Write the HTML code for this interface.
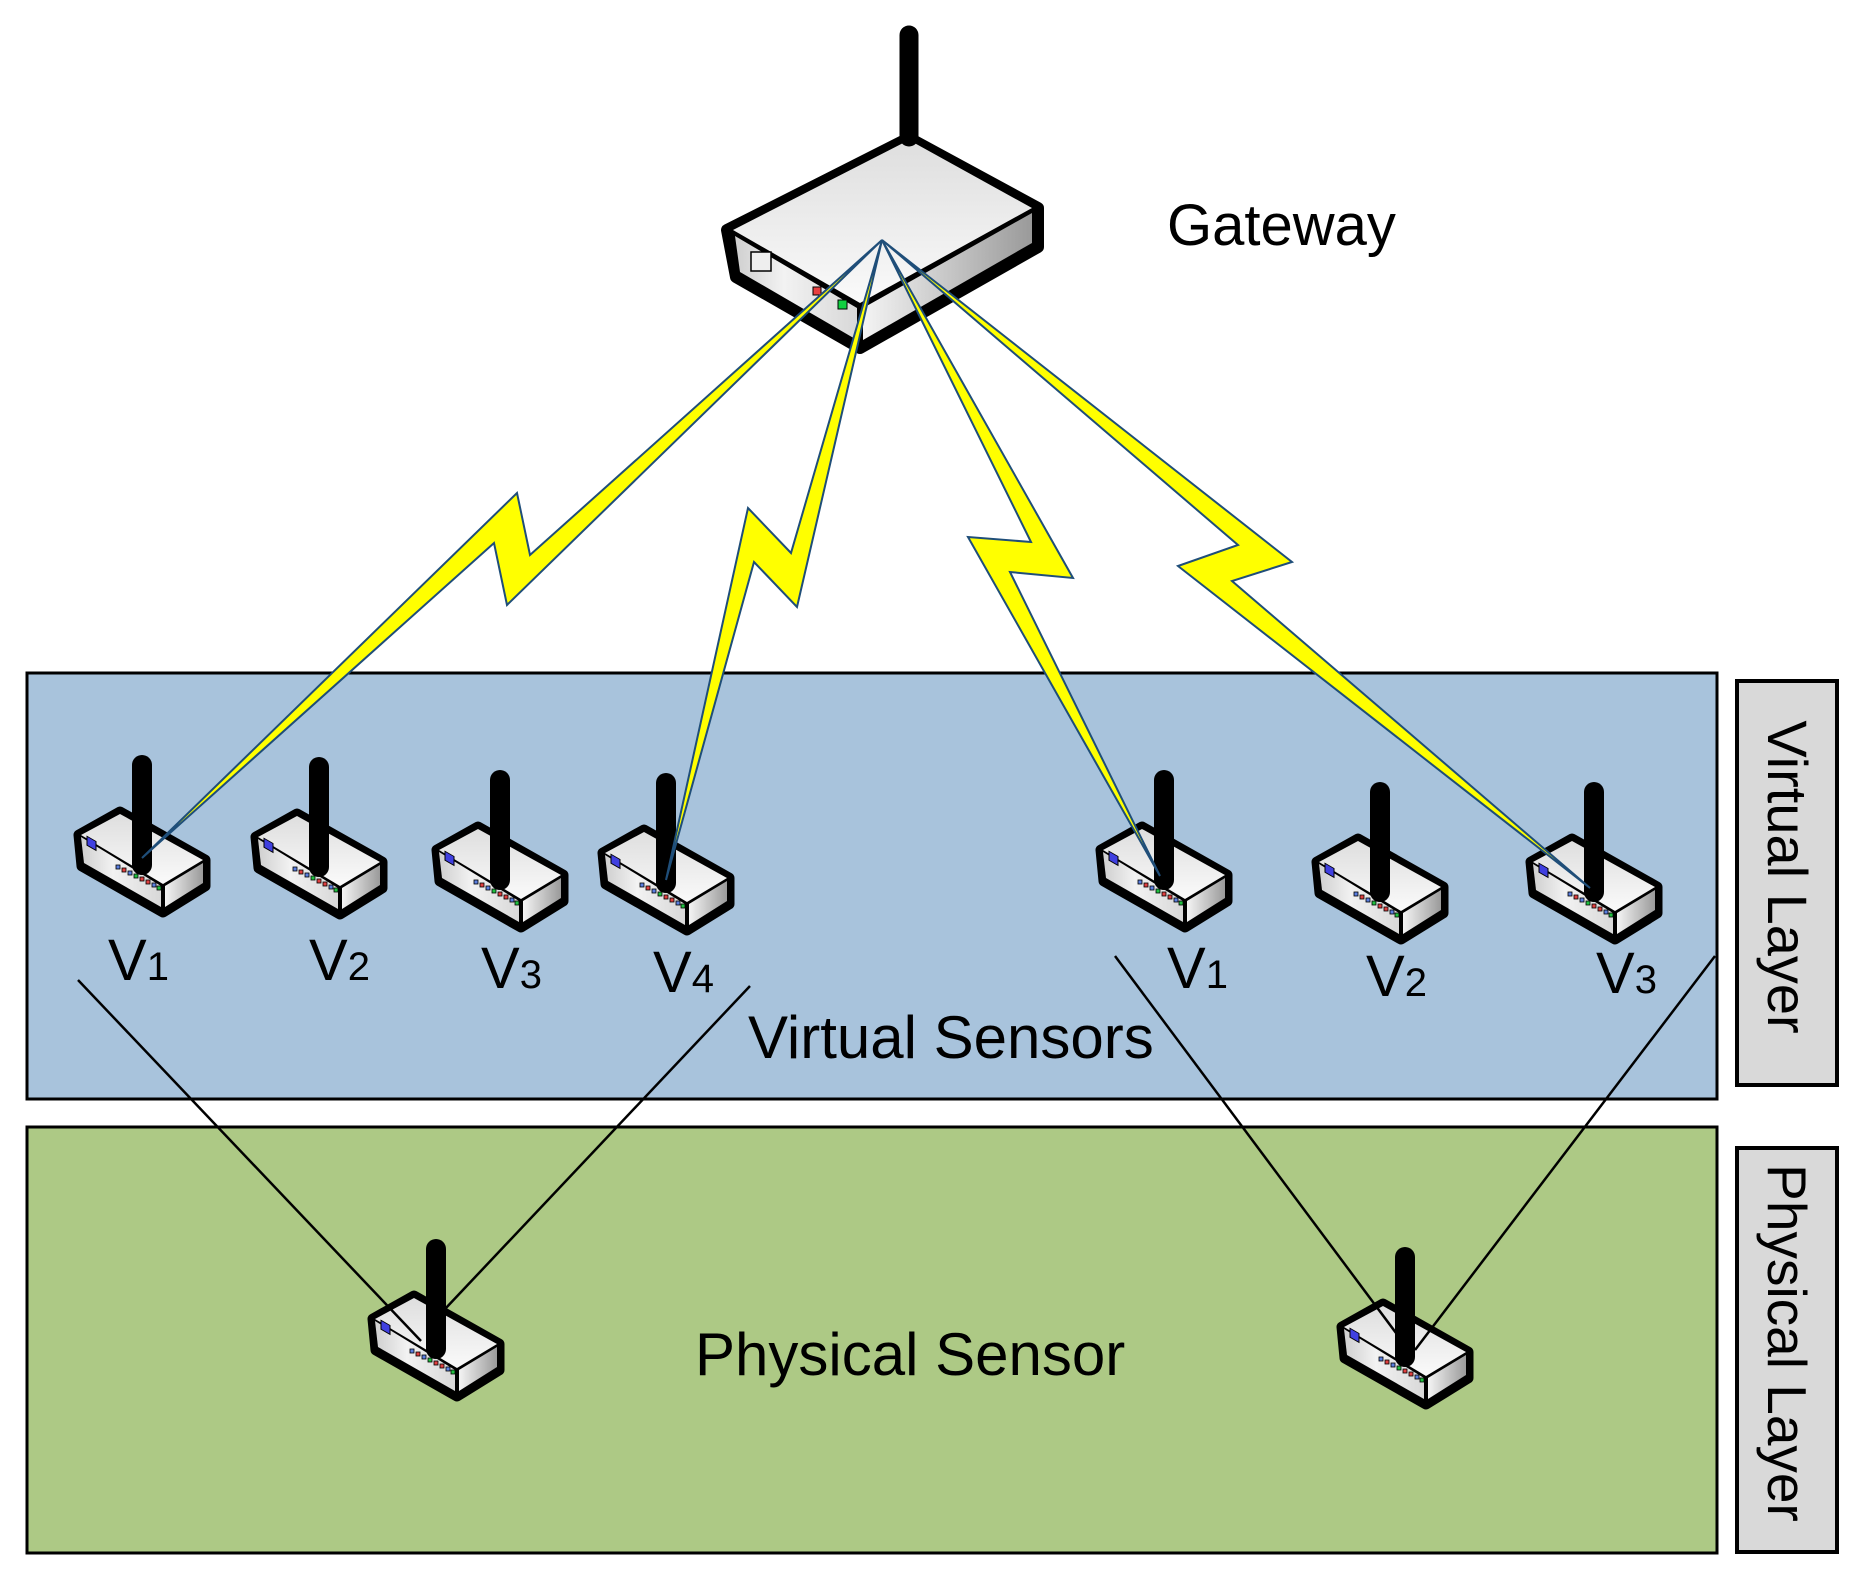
<!DOCTYPE html>
<html><head><meta charset="utf-8"><style>
html,body{margin:0;padding:0;background:#fff;}
svg{display:block;}
text{font-family:"Liberation Sans",Arial,sans-serif;fill:#000;}
</style></head><body>
<svg width="1865" height="1573" viewBox="0 0 1865 1573" xmlns="http://www.w3.org/2000/svg">
<defs>
<linearGradient id="top" x1="0" y1="0" x2="0" y2="1"><stop offset="0" stop-color="#dedede"/><stop offset="1" stop-color="#fafafa"/></linearGradient>
<linearGradient id="lf" x1="0" y1="0" x2="1" y2="0"><stop offset="0" stop-color="#cfcfcf"/><stop offset="0.4" stop-color="#f2f2f2"/><stop offset="1" stop-color="#d8d8d8"/></linearGradient>
<linearGradient id="rf" x1="0" y1="0" x2="1" y2="0"><stop offset="0" stop-color="#f4f4f4"/><stop offset="1" stop-color="#9a9a9a"/></linearGradient>
<g id="body">
<polygon points="-22,47 63,95 63,121 21,147 -60,101 -63,70" fill="#000" stroke="#000" stroke-width="11" stroke-linejoin="round"/>
<polygon points="-22,49 61,95 21,119 -61,70" fill="url(#top)"/>
<polygon points="-61,72 19,121 19,142 -58,98" fill="url(#lf)"/>
<polygon points="23,121 61,98 61,118 23,142" fill="url(#rf)"/>
<rect x="-55" y="78" width="9" height="9" fill="#4040e0" stroke="#000" stroke-width="1" transform="skewY(30) translate(0,25)"/>
<g stroke="#000" stroke-width="0.8">
<rect x="-26" y="100" width="4" height="4" fill="#5b7fe0"/><rect x="-20" y="103" width="4" height="4" fill="#e04040"/>
<rect x="-14" y="106" width="4" height="4" fill="#5b7fe0"/><rect x="-8" y="109" width="4" height="4" fill="#20c040"/>
<rect x="-2" y="112" width="4" height="4" fill="#e04040"/><rect x="4" y="115" width="4" height="4" fill="#e04040"/>
<rect x="10" y="118" width="4" height="4" fill="#5b7fe0"/><rect x="15" y="121" width="4" height="4" fill="#20c040"/>
</g>
</g>
<g id="ant"><line x1="0" y1="0" x2="0" y2="100" stroke="#000" stroke-width="20" stroke-linecap="round"/></g>
</defs>

<rect x="27" y="673" width="1690" height="426" fill="#a8c3dc" stroke="#000" stroke-width="3"/>
<rect x="27" y="1127" width="1690" height="426" fill="#adc985" stroke="#000" stroke-width="3"/>
<rect x="1745" y="681" width="100" height="404" fill="#d9d9d9" stroke="#000" stroke-width="4" transform="translate(-8,0)"/>
<rect x="1745" y="1148" width="100" height="404" fill="#d9d9d9" stroke="#000" stroke-width="4" transform="translate(-8,0)"/>
<text x="0" y="0" font-size="56" text-anchor="middle" transform="translate(1768,877) rotate(90)">Virtual Layer</text>
<text x="0" y="0" font-size="55" text-anchor="middle" transform="translate(1768,1343) rotate(90)">Physical Layer</text>

<text x="1167" y="245" font-size="58">Gateway</text>
<text x="748" y="1058" font-size="60">Virtual Sensors</text>
<text x="695" y="1375" font-size="60">Physical Sensor</text>

<use href="#body" x="142" y="765"/><use href="#ant" x="142" y="765"/>
<use href="#body" x="319" y="767"/><use href="#ant" x="319" y="767"/>
<use href="#body" x="500" y="780"/><use href="#ant" x="500" y="780"/>
<use href="#body" x="666" y="783"/><use href="#ant" x="666" y="783"/>
<use href="#body" x="1164" y="780"/><use href="#ant" x="1164" y="780"/>
<use href="#body" x="1380" y="792"/><use href="#ant" x="1380" y="792"/>
<use href="#body" x="1594" y="792"/><use href="#ant" x="1594" y="792"/>

<use href="#body" x="436" y="1249"/>
<use href="#body" x="1405" y="1257"/>
<g stroke="#000" stroke-width="2.5" fill="none">
<line x1="78" y1="980" x2="421" y2="1341"/>
<line x1="750" y1="986" x2="445" y2="1309"/>
<line x1="1115" y1="956" x2="1405" y2="1345"/>
<line x1="1715" y1="956" x2="1415" y2="1350"/>
</g>
<use href="#ant" x="436" y="1249"/>
<use href="#ant" x="1405" y="1257"/>

<g font-size="58">
<text x="108" y="980">V<tspan font-size="40">1</tspan></text>
<text x="309" y="980">V<tspan font-size="40">2</tspan></text>
<text x="481" y="988">V<tspan font-size="40">3</tspan></text>
<text x="653" y="992">V<tspan font-size="40">4</tspan></text>
<text x="1167" y="988">V<tspan font-size="40">1</tspan></text>
<text x="1366" y="996">V<tspan font-size="40">2</tspan></text>
<text x="1596" y="993">V<tspan font-size="40">3</tspan></text>
</g>

<polygon points="909,138 1038,208 1038,247 860,348 736,277 727,230" fill="#000" stroke="#000" stroke-width="12" stroke-linejoin="round"/>
<polygon points="909,140 1032,208 860,303 733,230" fill="url(#top)"/>
<polygon points="735,236 857,308 857,340 740,272" fill="url(#lf)"/>
<polygon points="863,308 1032,213 1032,243 863,340" fill="url(#rf)"/>
<rect x="751" y="252" width="20" height="19" fill="#eee" stroke="#000" stroke-width="1.5"/>
<rect x="813" y="287" width="8" height="8" fill="#e84040" stroke="#000" stroke-width="1"/>
<rect x="838" y="300" width="9" height="9" fill="#10d040" stroke="#000" stroke-width="1"/>
<line x1="909" y1="35" x2="909" y2="137" stroke="#000" stroke-width="19" stroke-linecap="round"/>

<g fill="#ffff00" stroke="#1f4e79" stroke-width="2" stroke-linejoin="miter">
<polygon points="882,240 530,555 517,493 142,858 494,543 507,605"/>
<polygon points="882,240 791,553 748,508 666,880 754,562 797,607"/>
<polygon points="882,240 1031,542 968,537 1160,876 1010,572 1073,578"/>
<polygon points="882,240 1238,545 1178,566 1590,888 1232,581 1292,562"/>
</g>
</svg>
</body></html>
